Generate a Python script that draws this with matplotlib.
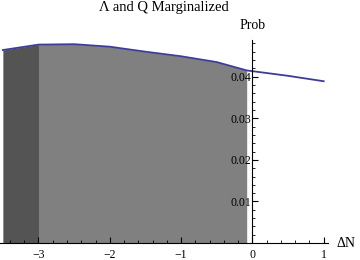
import numpy as np
import matplotlib.pyplot as plt
from matplotlib.ticker import MultipleLocator, FixedLocator

plt.rcParams['font.family'] = ['Liberation Serif', 'DejaVu Serif']

# marginalized probability vs Delta N
delta_n = [-3.5, -3.0, -2.5, -2.0, -1.5, -1.0, -0.5, -0.08, 0.5, 1.0]
prob = [0.0464, 0.0477, 0.0478, 0.0472, 0.0460, 0.0449, 0.0435, 0.0415, 0.0402, 0.0389]
y_ticks = [0.01, 0.02, 0.03, 0.04]
x_ticks = [-3, -2, -1, 0, 1]

fig = plt.figure(figsize=(3.6, 2.6), dpi=100)
ax = fig.add_axes([0.0, 0.065, 0.911, 0.781])

x = np.array(delta_n)
y = np.array(prob)
# dark block up to -3, lighter gray from -3 to the cut
ax.fill_between(x[:2], 0, y[:2], color='#545454', lw=0)
ax.fill_between(x[1:8], 0, y[1:8], color='#808080', lw=0)
ax.plot(x, y, color='#3d3d99', lw=1.3)

ax.set_xlim(-3.54, 1.06)
ax.set_ylim(0, 0.0488)

for s in ['top', 'right']:
    ax.spines[s].set_visible(False)
ax.spines['left'].set_position(('data', 0))
ax.spines['bottom'].set_position(('data', 0))
ax.spines['left'].set_zorder(5)

ax.xaxis.set_major_locator(FixedLocator(x_ticks))
ax.xaxis.set_minor_locator(MultipleLocator(0.2))
ax.yaxis.set_major_locator(FixedLocator(y_ticks))
ax.yaxis.set_minor_locator(MultipleLocator(0.002))
ax.set_xticklabels(['\u22123', '\u22122', '\u22121', '0', '1'])
ax.set_yticklabels(['0.01', '0.02', '0.03', '0.04'])
ax.tick_params(which='major', direction='in', length=4, width=0.8, labelsize=8.5)
ax.tick_params(axis='x', which='major', pad=4)
ax.tick_params(axis='y', which='major', pad=1)
ax.tick_params(which='minor', direction='in', length=2, width=0.6)

ax.text(0, 1.04, 'Prob', transform=ax.get_xaxis_transform(), ha='center', va='bottom', fontsize=10)
ax.text(1.025, 0, '\u0394N', transform=ax.get_yaxis_transform(), ha='left', va='center', fontsize=10)
fig.text(0.455, 0.995, '\u039b and Q Marginalized', ha='center', va='top', fontsize=10.5)

fig.savefig('out.png', dpi=100)
